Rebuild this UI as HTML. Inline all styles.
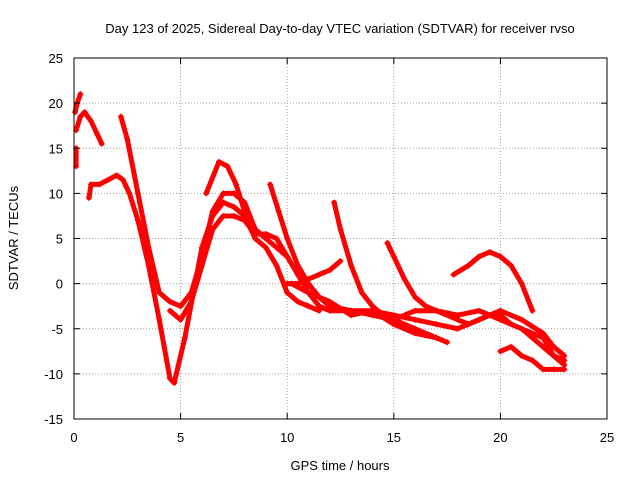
<!DOCTYPE html>
<html><head><meta charset="utf-8"><style>
body{margin:0;background:#fff;}
svg{display:block;font-family:"Liberation Sans",sans-serif;}
</style></head><body>
<svg id="chart" width="640" height="480" viewBox="0 0 640 480">
<text x="340" y="33" font-size="13" text-anchor="middle">Day 123 of 2025, Sidereal Day-to-day VTEC variation (SDTVAR) for receiver rvso</text>
<text x="340" y="470" font-size="13" text-anchor="middle">GPS time / hours</text>
<text x="0" y="0" font-size="13" text-anchor="middle" transform="translate(18,238) rotate(-90)">SDTVAR / TECUs</text>
<g id="grid"></g>
<g id="marks"></g>
<rect x="74" y="58" width="533" height="361" fill="none" stroke="#000" stroke-width="1"/>
<g id="ticks"></g>
</svg>
<script>
const xTicks=[0,5,10,15,20,25];
const yTicks=[-15,-10,-5,0,5,10,15,20,25];
const track1=[[0.05,19],[0.15,20],[0.3,21]];
const track2=[[0.1,17],[0.3,18.5],[0.5,19],[0.8,18],[1.1,16.5],[1.3,15.5]];
const track3=[[0.1,13],[0.1,15]];
const track4=[[0.7,9.5],[0.8,11],[1.2,11],[1.6,11.5],[2,12],[2.3,11.5],[2.6,10],[3,7],[3.5,2],[4,-4],[4.5,-10.5],[4.7,-11],[4.9,-9],[5.2,-6],[5.6,-1],[6,4],[6.5,7.5],[7,9],[7.5,8.5],[8,7.5],[8.5,5],[9,4],[9.5,2],[10,-1],[10.5,-2],[11,-2.5],[11.5,-3]];
const track5=[[2.2,18.5],[2.5,16],[3,10],[3.5,4],[4,-1],[4.5,-2],[5,-2.5],[5.5,-1],[6,3],[6.5,8],[7,10],[7.5,10],[8,9],[8.5,6],[9,5],[9.5,4],[10,3]];
const track6=[[6.2,10],[6.8,13.5],[7.2,13],[7.6,11],[8,8],[8.5,6],[9,5]];
const track7=[[9.2,11],[9.6,8],[10,5],[10.5,2],[11,0],[11.5,-1.5],[12,-2.5],[13,-3],[14,-3.5],[15,-4],[16,-5],[17,-6],[17.5,-6.5]];
const track8=[[12.2,9],[12.5,6],[13,2],[13.5,-1],[14,-2.5],[14.5,-3.5],[15,-4],[16,-3],[17,-3],[18,-3.5],[19,-3],[20,-4],[21,-5],[22,-7],[22.5,-8],[23,-9]];
const track9=[[14.7,4.5],[15,3],[15.5,0.5],[16,-1.5],[16.5,-2.5],[17,-3],[18,-4],[18.5,-4.5],[19,-4],[19.5,-3.5],[20,-3.5],[20.5,-4.5],[21,-5],[22,-6],[22.5,-8],[23,-8.5]];
const track10=[[17.8,1],[18.5,2],[19,3],[19.5,3.5],[20,3],[20.5,2],[21,0],[21.5,-3]];
const track11=[[20,-7.5],[20.5,-7],[21,-8],[21.5,-8.5],[22,-9.5],[22.5,-9.5],[23,-9.5]];
const track12=[[10,0],[10.5,0],[11,0.5],[11.5,1],[12,1.5],[12.5,2.5]];
const track13=[[10.2,0],[11,-1],[12,-2],[13,-3.5],[14,-3],[15,-4.5],[16,-5.5],[17,-6]];
const track14=[[4.5,-3],[5,-4],[5.5,-2],[6,2],[6.5,6],[7,7.5],[7.5,7.5],[8,7],[8.5,5.5],[9,5.5],[9.5,5],[10,3],[10.5,1],[11,-1],[11.5,-2.5],[12,-3],[13,-3],[14,-3],[15,-3.5],[16,-4],[17,-4.5],[18,-5],[19,-4],[20,-3],[21,-4],[22,-5.5],[22.5,-7],[23,-8]];
const tracks=[track1,track2,track3,track4,track5,track6,track7,track8,track9,track10,track11,track12,track13,track14];
const NS='http://www.w3.org/2000/svg';
const X0=74,X1=607,Y0=419,Y1=58;
function xs(v){return X0+(v-0)/(25-0)*(X1-X0);}
function ys(v){return Y0-(v+15)/(40)*(Y0-Y1);}
const grid=document.getElementById('grid'),ticks=document.getElementById('ticks'),marks=document.getElementById('marks');
function mk(t,a,p){const e=document.createElementNS(NS,t);for(const k in a)e.setAttribute(k,a[k]);p.appendChild(e);return e;}
xTicks.forEach(v=>{const x=xs(v);
 if(v>0&&v<25){const g=mk('line',{x1:x,x2:x,y1:Y1,y2:Y0,stroke:'#a0a0a0','stroke-dasharray':'1,2'},grid);
 
 }
 const t=mk('text',{x:x,y:442,'font-size':13,'text-anchor':'middle'},ticks);t.textContent=v;
 
 
 mk('line',{x1:x,x2:x,y1:Y0,y2:Y0-6,stroke:'#000'},ticks);mk('line',{x1:x,x2:x,y1:Y1,y2:Y1+6,stroke:'#000'},ticks);});
yTicks.forEach(v=>{const y=ys(v);
 if(v>-15&&v<25){const g=mk('line',{x1:X0,x2:X1,y1:y,y2:y,stroke:'#a0a0a0','stroke-dasharray':'1,2'},grid);
 
 }
 const t=mk('text',{x:63,y:y+5,'font-size':13,'text-anchor':'end'},ticks);t.textContent=v;
 
 
 mk('line',{x1:X0,x2:X0+6,y1:y,y2:y,stroke:'#000'},ticks);mk('line',{x1:X1,x2:X1-6,y1:y,y2:y,stroke:'#000'},ticks);});
tracks.forEach((tr,i)=>{
 const pl=mk('polyline',{points:tr.map(p=>xs(p[0])+','+ys(p[1])).join(' '),fill:'none',stroke:'#f00','stroke-width':5,'stroke-linejoin':'round','stroke-linecap':'round'},marks);
 
 
 tr.forEach(p=>{const x=xs(p[0]),y=ys(p[1]);
  const m=mk('path',{d:`M${x-3},${y}H${x+3}M${x},${y-3}V${y+3}`,stroke:'#f00','stroke-width':1},marks);
  
  });
});
</script>
</body></html>
